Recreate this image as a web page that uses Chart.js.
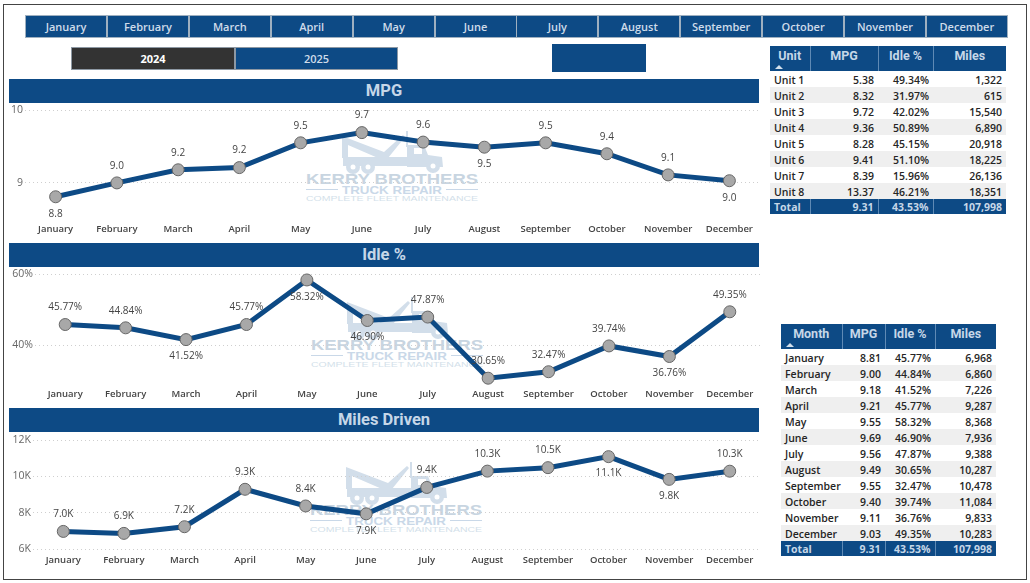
<!DOCTYPE html>
<html>
<head>
<meta charset="utf-8">
<title>Fleet dashboard</title>
<script src="https://cdn.jsdelivr.net/npm/chart.js@4"></script>
<style>
    html, body { margin: 0; padding: 0; background: #fff; }
    #page { position: relative; width: 1030px; height: 583px; overflow: hidden; font-family: "Open Sans", sans-serif; }
    #frame { position: absolute; left: 3px; top: 4px; width: 1022px; height: 574px; border: 1px solid #444; }
    .box { position: absolute; box-sizing: border-box; background: #0d4a85; color: #cfdcea; text-align: center; }
    .month { top: 15px; height: 23px; width: 82px; border: 1px solid #9fb0c0; font: 600 11px/21px "Open Sans", sans-serif; }
    .year { top: 47px; height: 23px; border: 1px solid #8d98a3; font: 600 11px/21px "Open Sans", sans-serif; }
    .title { left: 9px; width: 750px; font: 700 16.5px/23px Roboto, sans-serif; color: #c6d7e8; }
    canvas { position: absolute; left: 0; z-index: 2; }
    .mark { position: absolute; z-index: 1; }
    table { position: absolute; border-collapse: collapse; table-layout: fixed; font: 600 10.5px "Open Sans", sans-serif; color: #252525; z-index: 3; }
    th { background: #0d4a85; color: #c6d7e8; font: 700 12.5px Roboto, sans-serif; padding: 0 0 6px; height: 19px; border-left: 1px solid #5f8ab5; position: relative; }
    th:first-child { border-left: 0; }
    td { height: 15px; padding: 1px 4px 0; text-align: right; white-space: nowrap; }
    td:first-child { text-align: left; }
    tbody tr:nth-child(even) td { background: #efefef; }
    tfoot td { background: #0d4a85; color: #c6d7e8; font-weight: 700; height: 15px; padding-top: 0; border-left: 1px solid #5f8ab5; }
    tfoot td:first-child { border-left: 0; }
    .sort { position: absolute; left: 5px; bottom: 2px; width: 0; height: 0; border: 4px solid transparent; border-top: 0; border-bottom: 4px solid #d3e0ec; }
</style>
</head>
<body>
<div id="page">
    <div id="frame"></div>
    <canvas id="mpgChart" width="770" height="139" style="top:100px"></canvas>
    <canvas id="idleChart" width="770" height="141" style="top:264px"></canvas>
    <canvas id="milesChart" width="770" height="143" style="top:430px"></canvas>
</div>
<script>
const months = ['January', 'February', 'March', 'April', 'May', 'June', 'July', 'August', 'September', 'October', 'November', 'December'];
const years = ['2024', '2025'];

const mpgValues = [8.81, 9.00, 9.18, 9.21, 9.55, 9.69, 9.56, 9.49, 9.55, 9.40, 9.11, 9.03];
const idleValues = [45.77, 44.84, 41.52, 45.77, 58.32, 46.90, 47.87, 30.65, 32.47, 39.74, 36.76, 49.35];
const milesValues = [6968, 6860, 7226, 9287, 8368, 7936, 9388, 10287, 10478, 11084, 9833, 10283];

const mpgLabels = ['8.8', '9.0', '9.2', '9.2', '9.5', '9.7', '9.6', '9.5', '9.5', '9.4', '9.1', '9.0'];
const idleLabels = ['45.77%', '44.84%', '41.52%', '45.77%', '58.32%', '46.90%', '47.87%', '30.65%', '32.47%', '39.74%', '36.76%', '49.35%'];
const milesLabels = ['7.0K', '6.9K', '7.2K', '9.3K', '8.4K', '7.9K', '9.4K', '10.3K', '10.5K', '11.1K', '9.8K', '10.3K'];

const mpgTicks = [9, 10];
const idleTicks = [40, 60];
const milesTicks = [6000, 8000, 10000, 12000];

const units = ['Unit 1', 'Unit 2', 'Unit 3', 'Unit 4', 'Unit 5', 'Unit 6', 'Unit 7', 'Unit 8'];
const unitMpg = ['5.38', '8.32', '9.72', '9.36', '8.28', '9.41', '8.39', '13.37'];
const unitIdle = ['49.34%', '31.97%', '42.02%', '50.89%', '45.15%', '51.10%', '15.96%', '46.21%'];
const unitMiles = ['1,322', '615', '15,540', '6,890', '20,918', '18,225', '26,136', '18,351'];
const monthMpg = ['8.81', '9.00', '9.18', '9.21', '9.55', '9.69', '9.56', '9.49', '9.55', '9.40', '9.11', '9.03'];
const monthMiles = ['6,968', '6,860', '7,226', '9,287', '8,368', '7,936', '9,388', '10,287', '10,478', '11,084', '9,833', '10,283'];
const totals = ['Total', '9.31', '43.53%', '107,998'];

const NAVY = '#0d4a85';
const page = document.getElementById('page');

function addBox(cls, text, css) {
    const el = document.createElement('div');
    el.className = 'box ' + cls;
    el.textContent = text;
    el.style.cssText = css;
    page.appendChild(el);
    return el;
}

// slicers and section titles
months.forEach((m, i) => addBox('month', m, `left:${25 + i * 81.9}px`));
addBox('year', years[0], 'left:71px;width:164px;background:#333;color:#fff;font-weight:700');
addBox('year', years[1], 'left:235px;width:163px');
addBox('', '', 'left:552px;top:44px;width:94px;height:28px');
addBox('title', 'MPG', 'top:79px;height:24px');
addBox('title', 'Idle %', 'top:243px;height:24px');
addBox('title', 'Miles Driven', 'top:408px;height:24px');

// faded company logo that sits behind each chart
function addWatermark(left, top) {
    const ns = 'http://www.w3.org/2000/svg';
    const svg = document.createElementNS(ns, 'svg');
    svg.setAttribute('class', 'mark');
    svg.setAttribute('width', 174);
    svg.setAttribute('height', 72);
    svg.style.left = left + 'px';
    svg.style.top = top + 'px';
    svg.innerHTML = `
        <g fill="#d2deea" stroke="none">
            <path d="M36 6 L78 22 L97 5 L99 7 L82 28 L72 28 L42 15 L42 28 L36 28 Z"/>
            <rect x="37" y="27" width="64" height="9"/>
            <rect x="100" y="1" width="2" height="16"/>
            <path d="M101 15 L118 15 L122 25 L136 27 L137 37 L101 37 Z"/>
            <circle cx="47" cy="37" r="7"/><circle cx="62" cy="37" r="7"/><circle cx="127" cy="36" r="7"/>
        </g>
        <g fill="#fff">
            <circle cx="47" cy="37" r="2.5"/><circle cx="62" cy="37" r="2.5"/><circle cx="127" cy="36" r="2.5"/>
            <rect x="108" y="18" width="8" height="6"/>
        </g>
        <text x="0" y="54" textLength="172" lengthAdjust="spacingAndGlyphs" font-family="Liberation Sans" font-weight="700" font-size="14" fill="#c8d5e1">KERRY BROTHERS</text>
        <rect x="0" y="59" width="32" height="1" fill="#c9d8e8"/><rect x="140" y="59" width="32" height="1" fill="#c9d8e8"/>
        <text x="36" y="64" textLength="100" lengthAdjust="spacingAndGlyphs" font-family="Liberation Sans" font-weight="700" font-size="10" fill="#c9d8e8">TRUCK REPAIR</text>
        <text x="0" y="71" textLength="172" lengthAdjust="spacingAndGlyphs" font-family="Liberation Sans" font-size="8" fill="#d3dfea">COMPLETE FLEET MAINTENANCE</text>`;
    page.appendChild(svg);
}
addWatermark(306, 130);
addWatermark(311, 296);
addWatermark(310, 461);

// value labels next to each point, placed above unless listed as below
const pointLabels = {
    id: 'pointLabels',
    afterDatasetsDraw(chart, args, opts) {
        const ctx = chart.ctx;
        ctx.save();
        ctx.font = '10px "Open Sans"';
        ctx.fillStyle = '#444';
        ctx.textAlign = 'center';
        ctx.textBaseline = 'middle';
        chart.getDatasetMeta(0).data.forEach((pt, i) => {
            const shift = opts.below.includes(i) ? 17 : -17;
            ctx.fillText(opts.labels[i], pt.x, pt.y + shift);
        });
        ctx.restore();
    }
};

function drawLine(id, values, labels, below, yMin, yMax, ticks, tickFmt, plotLeft, labelGap) {
    new Chart(document.getElementById(id), {
        type: 'line',
        data: {
            labels: months,
            datasets: [{
                data: values,
                borderColor: NAVY,
                borderWidth: 5,
                tension: 0,
                clip: false,
                pointRadius: 6,
                pointBackgroundColor: '#a8a8a8',
                pointBorderColor: '#666',
                pointBorderWidth: 1
            }]
        },
        options: {
            responsive: false,
            animation: false,
            layout: { padding: { top: 10, right: 10, left: 0, bottom: 0 } },
            plugins: {
                legend: { display: false },
                tooltip: { enabled: false },
                pointLabels: { labels, below }
            },
            scales: {
                x: {
                    offset: true,
                    grid: { display: false, drawTicks: false },
                    border: { display: false },
                    ticks: { color: '#444', padding: labelGap, maxRotation: 0, autoSkip: false, font: { family: 'Open Sans', size: 9.5, weight: '600' } },
                    afterFit: s => { s.height = 24; }
                },
                y: {
                    min: yMin,
                    max: yMax,
                    grid: { color: '#cfcfcf', lineWidth: 1, tickLength: 0 },
                    border: { display: false, dash: [1, 3] },
                    ticks: { color: '#666', padding: 2, callback: tickFmt, font: { family: 'Open Sans', size: 10.5 } },
                    afterBuildTicks: s => { s.ticks = ticks.map(value => ({ value })); },
                    afterFit: s => { s.width = plotLeft; }
                }
            }
        },
        plugins: [pointLabels]
    });
}

drawLine('mpgChart', mpgValues, mpgLabels, [0, 7, 11], 8.56, 10, mpgTicks, v => v, 25, 9);
drawLine('idleChart', idleValues, idleLabels, [2, 4, 5, 10], 29.86, 60, idleTicks, v => v + '%', 35, 8);
drawLine('milesChart', milesValues, milesLabels, [5, 9, 10], 6000, 12000, milesTicks, v => (v / 1000) + 'K', 33, 6);

// side tables
function addTable(left, top, widths, heads, rows) {
    const t = document.createElement('table');
    t.style.left = left + 'px';
    t.style.top = top + 'px';
    t.style.width = widths.reduce((a, b) => a + b, 0) + 'px';
    t.innerHTML = '<colgroup>' + widths.map(w => `<col style="width:${w}px">`).join('') + '</colgroup>'
        + '<thead><tr>' + heads.map((h, i) => `<th>${h}${i === 0 ? '<span class="sort"></span>' : ''}</th>`).join('') + '</tr></thead>'
        + '<tbody>' + rows.map(r => '<tr>' + r.map(c => `<td>${c}</td>`).join('') + '</tr>').join('') + '</tbody>'
        + '<tfoot><tr>' + totals.map(c => `<td>${c}</td>`).join('') + '</tr></tfoot>';
    page.appendChild(t);
}

addTable(770, 46, [40, 68, 55, 73], ['Unit', 'MPG', 'Idle %', 'Miles'],
    units.map((u, i) => [u, unitMpg[i], unitIdle[i], unitMiles[i]]));
addTable(781, 324, [61, 43, 50, 61], ['Month', 'MPG', 'Idle %', 'Miles'],
    months.map((m, i) => [m, monthMpg[i], idleLabels[i], monthMiles[i]]));
</script>
</body>
</html>
